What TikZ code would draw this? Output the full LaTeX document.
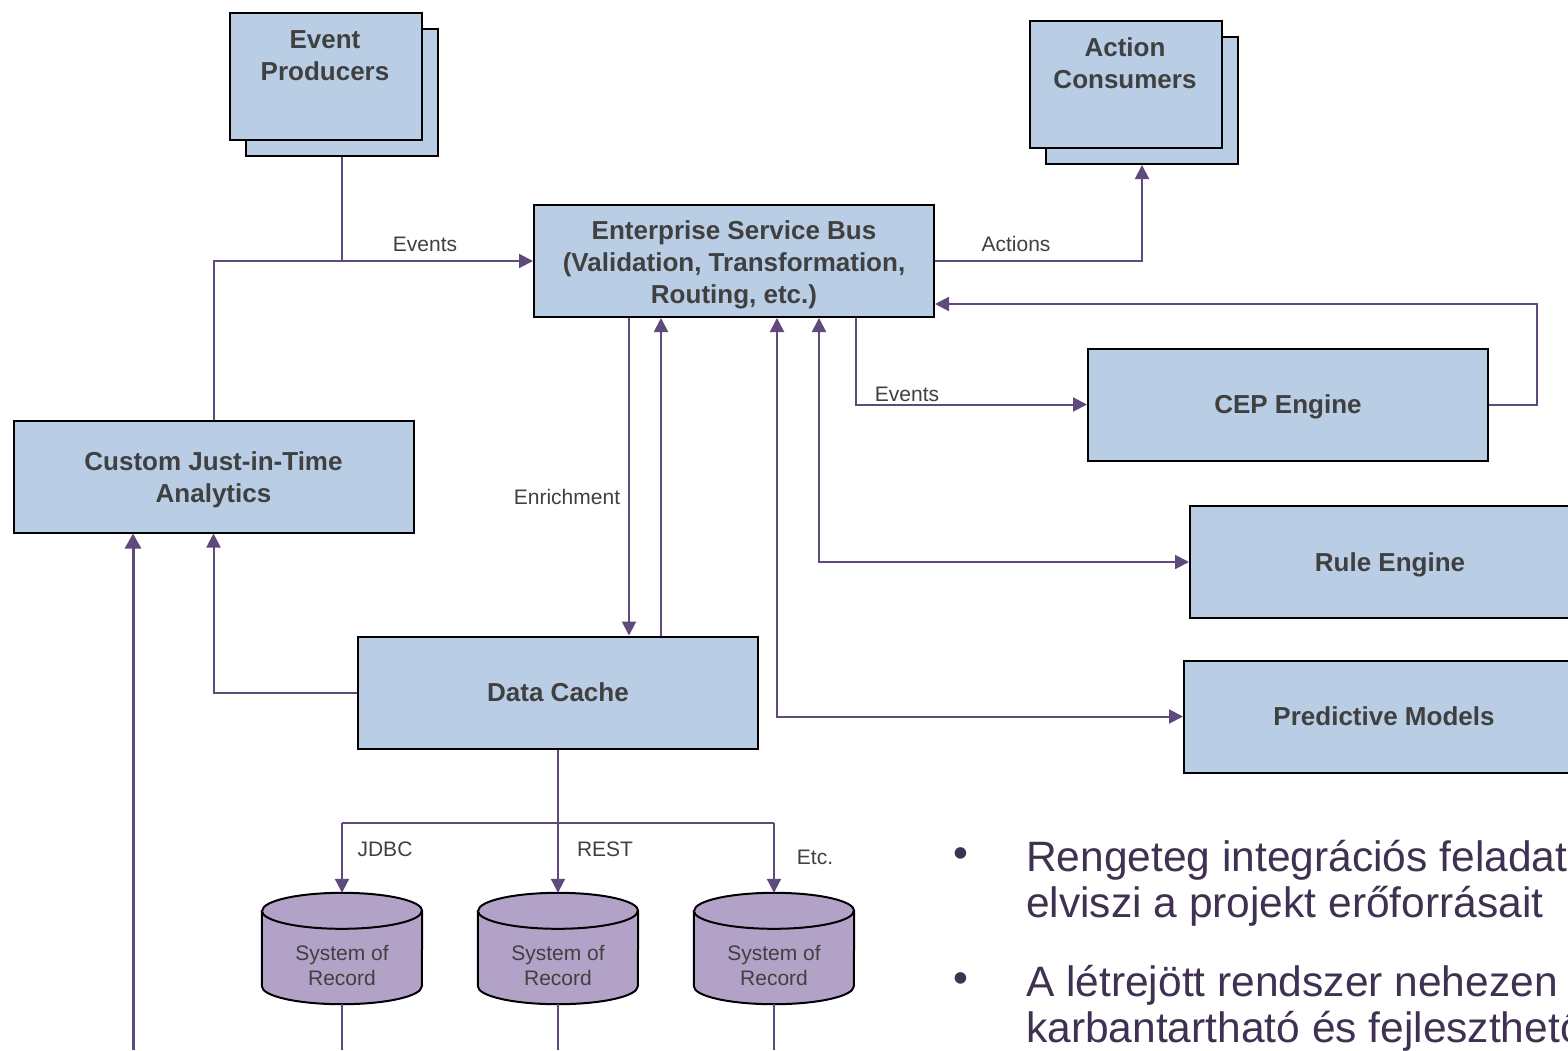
\documentclass[tikz,border=0pt]{standalone}
\usepackage{fontspec}
\setmainfont{Liberation Sans}
\usetikzlibrary{arrows.meta}
\definecolor{boxfill}{HTML}{B9CDE5}
\definecolor{dbfill}{HTML}{B3A2C7}
\definecolor{wire}{HTML}{5F4A7B}
\definecolor{ink}{HTML}{404040}
\definecolor{bulink}{HTML}{3F3151}

% cylinder outline drawn around an (invisible) named node
\newcommand\drawdb[1]{%
  \filldraw[dbshape] ([yshift=-18pt]#1.north west) -- ([yshift=18pt]#1.south west)
    arc[start angle=180,end angle=0,x radius=80,y radius=18]
    -- ([yshift=-18pt]#1.north east)
    arc[start angle=0,end angle=-180,x radius=80,y radius=18] -- cycle;
  \draw[dbshape] ([yshift=-18pt]#1.north west)
    arc[start angle=180,end angle=0,x radius=80,y radius=18];
}

\begin{document}
\begin{tikzpicture}[x=1pt,y=-1pt,
  block/.style={draw=black, line width=2pt, fill=boxfill, inner sep=0pt,
    minimum width=400pt, minimum height=112pt, align=center,
    font=\bfseries\fontsize{26}{32}\selectfont, text=ink,
    execute at begin node={\rule{0pt}{24.5pt}},
    execute at end node={\rule[-6pt]{0pt}{6pt}}},
  stackbox/.style={draw=black, line width=2pt, fill=boxfill,
    minimum width=192pt, minimum height=127pt, inner sep=0pt},
  boldtext/.style={align=center, font=\bfseries\fontsize{26}{32}\selectfont,
    text=ink, inner sep=0pt},
  dbnode/.style={minimum width=160pt, minimum height=111pt, inner sep=0pt},
  dbshape/.style={draw=black, line width=2pt, fill=dbfill},
  dbtext/.style={align=center, font=\fontsize{21}{25}\selectfont, text=ink, inner sep=0pt},
  wireline/.style={draw=wire, line width=2pt},
  flow/.style={wireline, -{Triangle[length=14pt,width=14pt]}},
  twoway/.style={wireline, {Triangle[length=14pt,width=14pt]}-{Triangle[length=14pt,width=14pt]}},
  lbl/.style={font=\fontsize{21}{25}\selectfont, text=ink, inner sep=0pt},
  bul/.style={font=\fontsize{42.5}{46}\selectfont, text=bulink, inner sep=0pt}
]
\clip (0,0) rectangle (1568,1050);
\fill[white] (0,0) rectangle (1568,1050);

% stacked boxes
\node[stackbox] (epb) at (342,92.5) {};
\node[stackbox] (ep) at (326,76.5) {};
\node[boldtext] (eptxt) at (325,56) {Event\\Producers};

\node[stackbox] (acb) at (1142,100.5) {};
\node[stackbox] (ac) at (1126,84.5) {};
\node[boldtext] (actxt) at (1125,63.5) {Action\\Consumers};

% main blocks
\node[block] (esb) at (734,261) {};
\node[boldtext] (esbtxt) at (734,265) {Enterprise Service Bus\\(Validation, Transformation,\\Routing, etc.)};
\node[block] (cep) at (1288,404.5) {CEP Engine};
\node[block] (rule) at (1390,562) {Rule Engine};
\node[block] (pred) at (1384,716.5) {Predictive Models};
\node[block] (jit) at (213.5,476.5) {};
\node[boldtext] (jittxt) at (213.5,480) {Custom Just-in-Time\\Analytics};
\node[block] (dc) at (558,692.5) {Data Cache};

% systems of record
\node[dbnode] (c1) at (342,948.5) {};
\node[dbnode] (c2) at (558,948.5) {};
\node[dbnode] (c3) at (774,948.5) {};
\drawdb{c1}\drawdb{c2}\drawdb{c3}
\node[dbtext] (t1) at (342,965.5) {System of\\Record};
\node[dbtext] (t2) at (558,965.5) {System of\\Record};
\node[dbtext] (t3) at (774,965.5) {System of\\Record};

% events in
\draw[wireline] (epb.south) -- (epb.south |- esb.west);
\draw[flow] (jit.north) |- (esb.west);
\node[lbl] (lev1) at (425,244) {Events};

% actions out
\draw[flow] (esb.east) -| (acb.south);
\node[lbl] (lact) at (1016,244) {Actions};

% CEP loop
\coordinate (busfb) at ([yshift=14pt]esb.south east);
\draw[flow] (cep.east) -- ++(48,0) |- (busfb);
\coordinate (evout) at ([xshift=-79pt]esb.south east);
\draw[flow] (evout) |- (cep.west);
\node[lbl] (lev2) at (907,394) {Events};

% enrichment
\coordinate (enrdown) at ([xshift=96pt]esb.south west);
\coordinate (enrup) at ([xshift=128pt]esb.south west);
\draw[flow] (enrdown) -- (enrdown |- dc.north);
\draw[flow] (enrup |- dc.north) -- (enrup);
\node[lbl] (lenr) at (567,497) {Enrichment};

% rule engine and predictive models
\coordinate (rulebus) at ([xshift=286pt]esb.south west);
\coordinate (predbus) at ([xshift=244pt]esb.south west);
\draw[twoway] (rulebus) |- (rule.west);
\draw[twoway] (predbus) |- (pred.west);

% cache to analytics
\draw[flow] (dc.west) -| (jit.south);
\coordinate (feed) at (133,1050);
\draw[wireline, line width=3pt, -{Triangle[length=15pt,width=16pt]}] (feed) -- (feed |- jit.south);

% cache to systems of record
\coordinate (split) at ([yshift=-73pt]dc.south);
\draw[wireline] (dc.south) -- (split);
\draw[wireline] (split -| c1.north) -- (split -| c3.north);
\draw[flow] (split -| c1.north) -- (c1.north);
\draw[flow] (split -| c2.north) -- (c2.north);
\draw[flow] (split -| c3.north) -- (c3.north);
\node[lbl] (ljdbc) at (385,849) {JDBC};
\node[lbl] (lrest) at (605,849) {REST};
\node[lbl] (letc) at (815,857) {Etc.};
\draw[wireline] (c1.south) -- (c1.south |- feed);
\draw[wireline] (c2.south) -- (c2.south |- feed);
\draw[wireline] (c3.south) -- (c3.south |- feed);

% bullet points
\node[bul] (d1) at (961,858) {\textbullet};
\node[bul] (d2) at (961,983) {\textbullet};
\node[bul, anchor=base west] (b1) at (1026,871) {Rengeteg integrációs feladat};
\node[bul, anchor=base west] (b2) at (1026,917) {elviszi a projekt erőforrásait};
\node[bul, anchor=base west] (b3) at (1026,996) {A létrejött rendszer nehezen};
\node[bul, anchor=base west] (b4) at (1026,1042) {karbantartható és fejleszthető};
\end{tikzpicture}
\end{document}
